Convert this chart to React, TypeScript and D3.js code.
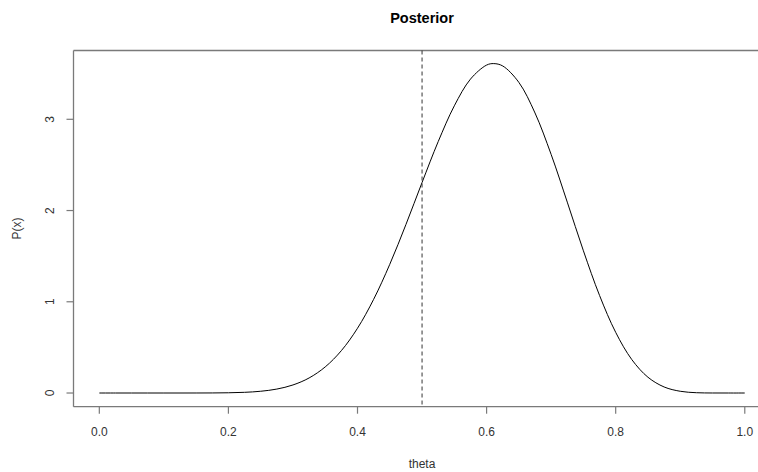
import React from "react";
import * as d3 from "d3";

const theta = [0, 0.025, 0.05, 0.075, 0.1, 0.125, 0.15, 0.175, 0.2, 0.225, 0.25, 0.275, 0.3, 0.325, 0.35, 0.375, 0.4, 0.425, 0.45, 0.475, 0.5, 0.525, 0.55, 0.575, 0.6, 0.6111, 0.625, 0.65, 0.675, 0.7, 0.725, 0.75, 0.775, 0.8, 0.825, 0.85, 0.875, 0.9, 0.925, 0.95, 0.975, 1.0];
const density = [0, 0, 0, 0, 0.000003, 0.00003, 0.00017, 0.00074, 0.0026, 0.0076, 0.0192, 0.0433, 0.0882, 0.165, 0.2862, 0.4645, 0.7099, 1.0268, 1.4105, 1.8462, 2.307, 2.755, 3.1477, 3.4402, 3.5942, 3.6104, 3.5845, 3.4044, 3.0693, 2.6148, 2.092, 1.5587, 1.0693, 0.6648, 0.3662, 0.1729, 0.0664, 0.019, 0.0034, 0.00027, 0.000004, 0];
const xTicks = [0, 0.2, 0.4, 0.6, 0.8, 1.0];
const yTicks = [0, 1, 2, 3];
const vLine = 0.5;

export default function App() {
  const W = 758, H = 472;
  const x = d3.scaleLinear().domain([-0.04, 1.04]).range([73.5, 770.6]);
  const y = d3.scaleLinear().domain([-0.15, 3.754]).range([406.7, 50.5]);
  const pts = theta.map((t, i) => [t, density[i]] as [number, number]);
  const line = d3.line<[number, number]>().x(d => x(d[0])).y(d => y(Math.max(0, d[1]))).curve(d3.curveCatmullRom.alpha(0.5));
  const font = "'Liberation Sans', Arial, sans-serif";
  const txt = "#333";
  const axisCol = "#7a7a7a";
  const [x0, x1] = x.range();
  const [y0, y1] = y.range();
  return (
    <svg width={W} height={H} style={{ display: "block", position: "absolute", left: 0, top: 0, background: "#fff" }} fontFamily={font}>
      <rect x={0} y={0} width={W} height={H} fill="#fff" />
      <text x={(x0 + x1) / 2} y={23} textAnchor="middle" fontSize={14.5} fontWeight="bold" fill="#000">Posterior</text>
      <line x1={x0} x2={W} y1={y1} y2={y1} stroke={axisCol} strokeWidth={1.3} />
      <line x1={x0} x2={W} y1={y0} y2={y0} stroke={axisCol} strokeWidth={1.3} />
      <line x1={x0} x2={x0} y1={y1} y2={y0} stroke={axisCol} strokeWidth={1.3} />
      {xTicks.map(t => (
        <g key={"x" + t}>
          <line x1={x(t)} x2={x(t)} y1={y0} y2={y0 + 7} stroke={axisCol} strokeWidth={1.2} />
          <text x={x(t)} y={y0 + 29} textAnchor="middle" fontSize={12} fill={txt}>{t.toFixed(1)}</text>
        </g>
      ))}
      {yTicks.map(t => (
        <g key={"y" + t}>
          <line x1={x0} x2={x0 - 7} y1={y(t)} y2={y(t)} stroke={axisCol} strokeWidth={1.2} />
          <text transform={`translate(${x0 - 20},${y(t)}) rotate(-90)`} textAnchor="middle" fontSize={12} fill={txt}>{t}</text>
        </g>
      ))}
      <text x={(x0 + x1) / 2} y={468} textAnchor="middle" fontSize={12} fill={txt}>theta</text>
      <text transform={`translate(${21},${(y0 + y1) / 2}) rotate(-90)`} textAnchor="middle" fontSize={12} fill={txt}>P(x)</text>
      <path d={line(pts) || ""} fill="none" stroke="#000" strokeWidth={1} />
      <line x1={x(vLine)} x2={x(vLine)} y1={y1} y2={y0} stroke="#333" strokeWidth={1} strokeDasharray="4,3" />
    </svg>
  );
}
